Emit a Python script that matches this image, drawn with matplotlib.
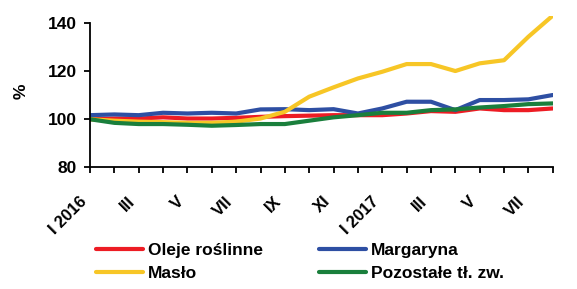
import numpy as np
import matplotlib.pyplot as plt
import matplotlib.transforms as mtransforms

plt.rcParams['font.family'] = ['Liberation Sans', 'DejaVu Sans']
plt.rcParams['font.weight'] = 'bold'

# data: index, Jan 2016 - Aug 2017
months = ['I 2016', '', 'III', '', 'V', '', 'VII', '', 'IX', '', 'XI', '',
          'I 2017', '', 'III', '', 'V', '', 'VII', '']
oleje = [99.8, 100.1, 100.1, 100.6, 100.1, 100.1, 100.4, 100.8, 101.1, 101.3,
         101.5, 101.5, 101.5, 102.2, 103.2, 102.9, 104.3, 103.6, 103.6, 104.3]
margaryna = [101.5, 101.8, 101.5, 102.5, 102.2, 102.5, 102.2, 103.9, 104.0, 103.6,
             104.0, 102.2, 104.3, 107.1, 107.1, 103.6, 107.8, 107.8, 108.1, 109.9]
maslo = [99.8, 99.2, 98.8, 98.6, 98.3, 98.3, 98.8, 100.1, 102.9, 109.2,
         113.1, 116.8, 119.6, 122.8, 122.8, 119.9, 123.1, 124.4, 134.2, 143.0]
pozostale = [99.8, 98.3, 97.8, 97.8, 97.5, 97.1, 97.4, 97.8, 97.8, 99.2,
             100.6, 101.5, 102.5, 102.5, 103.6, 103.9, 104.7, 105.3, 106.1, 106.4]

x = np.arange(len(months))

fig = plt.figure(figsize=(5.77, 2.89), dpi=100)
ax = fig.add_axes([0.156, 0.423, 0.802, 0.523])

lw = 3.0
l1, = ax.plot(x, oleje, color='#ED1C24', lw=lw, label='Oleje roślinne', solid_capstyle='round')
l2, = ax.plot(x, margaryna, color='#2E4FA3', lw=lw, label='Margaryna', solid_capstyle='round')
l3, = ax.plot(x, maslo, color='#F7C626', lw=lw, label='Masło', solid_capstyle='round')
l4, = ax.plot(x, pozostale, color='#1A7F3C', lw=lw, label='Pozostałe tł. zw.', solid_capstyle='round')

ax.set_xlim(0, len(months) - 1)
ax.set_ylim(80, 143)
ax.set_yticks([80, 100, 120, 140])
ax.set_yticklabels(['80', '100', '120', '140'], fontsize=12.5, fontweight='bold')
ax.set_xticks(x)
ax.set_xticklabels(months, rotation=45, ha='right', va='center', rotation_mode='anchor',
                   fontsize=12, fontweight='bold')
ax.tick_params(axis='both', width=1.3, length=4.3, direction='out', color='black')
ax.tick_params(axis='x', pad=19)
ax.tick_params(axis='y', pad=5)
shift = mtransforms.ScaledTranslation(-6 / 100, 0, fig.dpi_scale_trans)
for lab in ax.get_xticklabels():
    lab.set_transform(lab.get_transform() + shift)
for s in ['top', 'right']:
    ax.spines[s].set_visible(False)
for s in ['left', 'bottom']:
    ax.spines[s].set_linewidth(1.3)
ax.spines['left'].set_bounds(80, 140)
ax.set_ylabel('%', fontsize=12.5, fontweight='bold', labelpad=14)

leg_kw = dict(frameon=False, prop={'size': 12.5, 'weight': 'bold'}, handlelength=2.7,
              handletextpad=0.3, labelspacing=0.5, borderpad=0, borderaxespad=0,
              loc='center left')
leg1 = fig.legend([l1, l3], [l1.get_label(), l3.get_label()],
                  bbox_to_anchor=(96 / 577, 1 - 262 / 289), **leg_kw)
leg2 = fig.legend([l2, l4], [l2.get_label(), l4.get_label()],
                  bbox_to_anchor=(319 / 577, 1 - 262 / 289), **leg_kw)

fig.savefig('out.png', dpi=100)
